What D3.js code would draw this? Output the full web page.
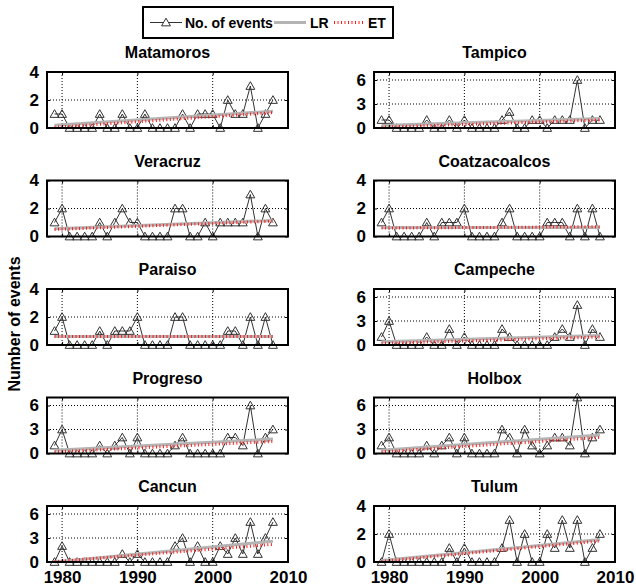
<!DOCTYPE html>
<head>
  <meta charset="utf-8" />
  <script src="https://d3js.org/d3.v7.min.js"></script>
  <style>
    body { margin: 0; background: #fff; }
    svg { font-family: "Liberation Sans", Arial, sans-serif; font-weight: bold; }
    .grid line { stroke: #000; stroke-width: 1; stroke-dasharray: 1,2; }
    .tick text { font-size: 17px; font-weight: bold; }
  </style>
</head>
<body>
  <svg width="636" height="587"></svg>
  <script>
    var years = [1979, 1980, 1981, 1982, 1983, 1984, 1985, 1986, 1987, 1988,
                 1989, 1990, 1991, 1992, 1993, 1994, 1995, 1996, 1997, 1998,
                 1999, 2000, 2001, 2002, 2003, 2004, 2005, 2006, 2007, 2008];

    var stations = ["Matamoros", "Tampico", "Veracruz", "Coatzacoalcos", "Paraiso",
                    "Campeche", "Progreso", "Holbox", "Cancun", "Tulum"];

    // number of events per year
    var matamoros     = [1,1,0,0,0,0,1,0,0,1,0,0,1,0,0,0,0,1,0,1,1,1,0,2,1,1,3,0,1,2];
    var tampico       = [1,1,0,0,0,0,1,0,0,1,0,1,0,0,0,0,1,2,0,0,1,1,0,1,1,1,6,0,1,1];
    var veracruz      = [1,2,0,0,0,0,1,0,1,2,1,1,0,0,0,0,2,2,0,0,1,0,1,1,1,1,3,0,2,1];
    var coatzacoalcos = [1,2,0,0,0,0,1,0,1,1,1,2,0,0,0,0,1,2,0,0,0,0,1,1,1,0,2,0,2,0];
    var paraiso       = [1,2,0,0,0,0,1,0,1,1,1,2,0,0,0,0,2,2,0,0,0,0,0,1,1,0,2,0,2,0];
    var campeche      = [1,3,0,0,0,0,1,0,0,2,0,1,0,0,0,0,2,1,0,0,0,0,0,1,2,1,5,0,2,1];
    var progreso      = [1,3,0,0,0,0,1,0,1,2,0,2,0,0,0,0,1,2,0,0,0,0,0,2,2,1,6,0,2,3];
    var holbox        = [1,2,0,0,0,0,1,0,1,2,0,2,0,0,0,0,3,2,0,3,1,0,1,2,2,1,7,0,2,3];
    var cancun        = [0,2,0,0,0,0,0,0,0,1,0,1,0,0,0,0,2,3,0,2,0,0,2,1,3,1,5,1,3,5];
    var tulum         = [0,2,0,0,0,0,0,0,0,1,0,1,0,0,0,0,1,3,0,2,0,0,2,1,3,1,3,0,1,2];
    var series = [matamoros, tampico, veracruz, coatzacoalcos, paraiso,
                  campeche, progreso, holbox, cancun, tulum];

    // trend lines: value at 1979 and at 2008
    var lrStart = [0.2, 0.3, 0.55, 0.65, 0.6, 0.4, 0.4, 0.4, 0.0, 0.1];
    var lrEnd   = [1.2, 1.2, 1.15, 0.65, 0.6, 1.2, 1.8, 2.3, 2.6, 1.6];
    var etStart = [0.05, 0.1, 0.5, 0.6, 0.6, 0.2, 0.2, 0.2, 0.05, 0.05];
    var etEnd   = [1.1, 1.0, 1.1, 0.7, 0.6, 1.0, 1.5, 2.0, 2.2, 1.5];

    var yMax   = [4, 7, 4, 4, 4, 7, 7, 7, 7, 4];
    var yTicks = { 4: [0, 2, 4], 7: [0, 3, 6] };
    var xTicks = [1980, 1990, 2000, 2010];

    var svg = d3.select("svg");
    var colX = [[47, 288], [374, 615]];
    var panelH = 56;

    var triangle = d3.symbol().type(d3.symbolTriangle).size(34);

    stations.forEach(function (name, i) {
      var col = i % 2, row = Math.floor(i / 2);
      var top = 72 + row * 108.5;
      var bottom = top + panelH;
      var x = d3.scaleLinear().domain([1978, 2010]).range(colX[col]);
      var y = d3.scaleLinear().domain([0, yMax[i]]).range([bottom, top]);
      var g = svg.append("g");

      g.append("rect")
        .attr("x", x.range()[0]).attr("y", top)
        .attr("width", x.range()[1] - x.range()[0]).attr("height", panelH)
        .attr("fill", "#fff");

      // dotted grid
      var grid = g.append("g").attr("class", "grid");
      grid.selectAll(".gx").data(xTicks.slice(0, 3)).enter().append("line")
        .attr("x1", function (d) { return x(d); }).attr("x2", function (d) { return x(d); })
        .attr("y1", top).attr("y2", bottom);
      grid.selectAll(".gy").data(yTicks[yMax[i]].filter(function (v) { return v > 0 && v < yMax[i]; }))
        .enter().append("line")
        .attr("x1", x.range()[0]).attr("x2", x.range()[1])
        .attr("y1", function (d) { return y(d); }).attr("y2", function (d) { return y(d); });

      // number of events
      var pts = years.map(function (yr, k) { return [yr, series[i][k]]; });
      g.append("path").datum(pts)
        .attr("fill", "none").attr("stroke", "#333").attr("stroke-width", 1)
        .attr("d", d3.line().x(function (d) { return x(d[0]); }).y(function (d) { return y(d[1]); }));
      g.selectAll(".m").data(pts).enter().append("path")
        .attr("transform", function (d) { return "translate(" + x(d[0]) + "," + (y(d[1]) + 0.8) + ")"; })
        .attr("d", triangle)
        .attr("fill", "none").attr("stroke", "#333").attr("stroke-width", 1);

      // LR and ET
      g.append("line")
        .attr("x1", x(years[0])).attr("x2", x(years[years.length - 1]))
        .attr("y1", y(lrStart[i])).attr("y2", y(lrEnd[i]))
        .attr("stroke", "#b4b4b4").attr("stroke-width", 3);
      g.append("line")
        .attr("x1", x(years[0])).attr("x2", x(years[years.length - 1]))
        .attr("y1", y(etStart[i])).attr("y2", y(etEnd[i]))
        .attr("stroke", "#ff1a1a").attr("stroke-width", 3).attr("stroke-dasharray", "1,2.5");

      // axes with inward ticks
      g.append("g").attr("transform", "translate(0," + bottom + ")")
        .call(d3.axisBottom(x).tickValues(xTicks).tickSize(-3).tickPadding(9)
          .tickFormat(row === 4 ? d3.format("d") : function () { return ""; }));
      g.append("g").attr("transform", "translate(0," + top + ")")
        .call(d3.axisTop(x).tickValues(xTicks).tickSize(-3).tickFormat(""));
      g.append("g").attr("transform", "translate(" + x.range()[0] + ",0)")
        .call(d3.axisLeft(y).tickValues(yTicks[yMax[i]]).tickSize(-3).tickPadding(8)
          .tickFormat(d3.format("d")));
      g.append("g").attr("transform", "translate(" + x.range()[1] + ",0)")
        .call(d3.axisRight(y).tickValues(yTicks[yMax[i]]).tickSize(-3).tickFormat(""));
      g.selectAll(".domain").remove();
      g.selectAll(".tick line").attr("stroke", "#000");
      g.selectAll(".tick text").attr("fill", "#000");

      g.append("rect")
        .attr("x", x.range()[0]).attr("y", top)
        .attr("width", x.range()[1] - x.range()[0]).attr("height", panelH)
        .attr("fill", "none").attr("stroke", "#000").attr("stroke-width", 2);

      g.append("text")
        .attr("x", (x.range()[0] + x.range()[1]) / 2).attr("y", top - 14)
        .attr("text-anchor", "middle").style("font-size", "16px")
        .text(name);
    });

    svg.append("text")
      .attr("transform", "translate(20,324) rotate(-90)")
      .attr("text-anchor", "middle").style("font-size", "16px")
      .text("Number of events");

    // legend
    var leg = svg.append("g");
    leg.append("rect").attr("x", 143).attr("y", 7).attr("width", 250).attr("height", 31)
      .attr("fill", "#fff").attr("stroke", "#000").attr("stroke-width", 2);
    leg.append("line").attr("x1", 150).attr("x2", 182).attr("y1", 22.5).attr("y2", 22.5)
      .attr("stroke", "#333");
    leg.append("path").attr("transform", "translate(166,23.3)").attr("d", triangle)
      .attr("fill", "#fff").attr("stroke", "#333");
    leg.append("text").attr("x", 185).attr("y", 28).style("font-size", "14px").text("No. of events");
    leg.append("line").attr("x1", 274).attr("x2", 306).attr("y1", 22.5).attr("y2", 22.5)
      .attr("stroke", "#b4b4b4").attr("stroke-width", 3);
    leg.append("text").attr("x", 310).attr("y", 28).style("font-size", "14px").text("LR");
    leg.append("line").attr("x1", 334).attr("x2", 363).attr("y1", 22.5).attr("y2", 22.5)
      .attr("stroke", "#ff1a1a").attr("stroke-width", 3).attr("stroke-dasharray", "1,2.5");
    leg.append("text").attr("x", 368).attr("y", 28).style("font-size", "14px").text("ET");
  </script>
</body>
